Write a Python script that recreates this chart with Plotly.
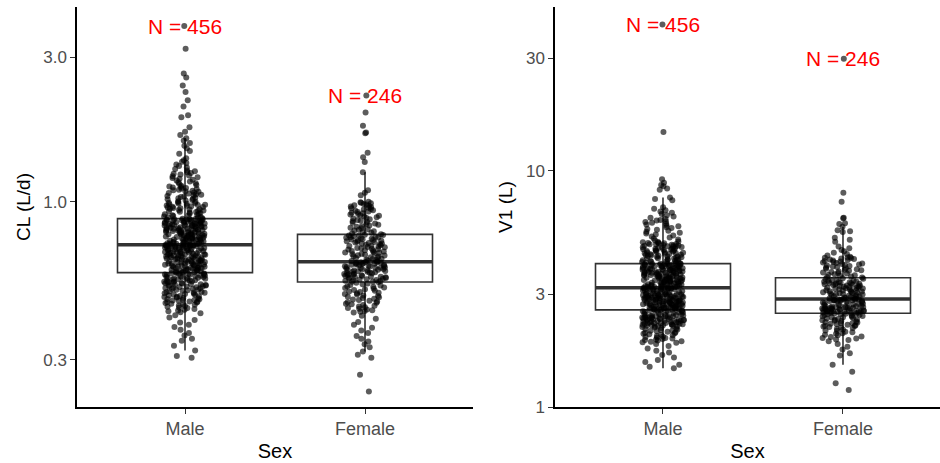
import numpy as np
import plotly.graph_objects as go

# ---------------- data ----------------
sex_categories = ["Male", "Female"]

# CL (L/d) in thousandths
cl_male_milli = [
    305, 309, 322, 334, 347, 352, 361, 368, 377, 385, 392, 399, 406, 414, 421,
    428, 431, 434, 437, 439, 442, 445, 447, 449, 452, 454, 456, 458, 460, 462, 464, 466, 467, 468, 470,
    471, 473, 474, 476, 477, 479, 480, 482, 484, 485, 487, 488, 490, 492, 493, 495, 496, 498, 500, 501,
    503, 504, 506, 508, 509, 511, 512, 514, 515, 517, 518, 519,
    521, 522, 524, 525, 526, 528, 529, 530, 532, 533, 534, 536, 537, 538, 540, 541, 542, 544, 545, 546,
    548, 549, 550, 552, 553, 554, 556, 557, 558, 560, 561, 562, 564, 565, 566, 568, 569, 570, 572, 573,
    574, 576, 577, 578, 579, 580, 581,
    583, 584, 585, 587, 588, 589, 590, 592, 593, 594, 595, 597, 598, 599, 600, 602, 603, 604, 605, 607,
    608, 609, 610, 612, 613, 614, 615, 617, 618, 619, 620, 622, 623, 624, 625, 627, 628, 629, 630, 632,
    633, 634, 635, 637, 638, 639, 640, 642, 643, 644, 645, 647, 648, 649, 650, 652, 653, 654, 655, 657,
    658, 659, 660, 662, 663, 664, 665, 667, 668, 669, 670, 672, 673, 674, 675, 677, 678, 679, 680, 682,
    683, 684, 685, 687, 688, 689, 690, 692, 693, 694, 695, 697, 698, 699, 700, 702, 703, 704, 705, 707,
    708, 709, 710, 711, 712, 713, 714, 715, 716, 717, 718, 719, 719, 720,
    721, 722, 724, 725, 727, 728, 729, 731, 732, 734, 735, 736, 738, 739, 741, 742, 743, 745, 746, 748,
    749, 750, 752, 753, 755, 756, 757, 759, 760, 762, 763, 764, 766, 767, 769, 770, 771, 773, 774, 776,
    777, 778, 780, 781, 783, 784, 785, 787, 788, 790, 791, 792, 794, 795, 797, 798, 799, 801, 802, 804,
    805, 806, 808, 809, 811, 812, 813, 815, 816, 818, 819, 820, 822, 823, 825, 826, 827, 829, 830, 832,
    833, 834, 836, 837, 839, 840, 841, 843, 844, 846, 847, 848, 850, 851, 853, 854, 855, 857, 858, 860,
    861, 862, 864, 865, 867, 868, 869, 871, 872, 874, 875, 876, 877, 878,
    881, 884, 887, 890, 893, 896, 899, 902, 905, 908, 911, 914, 917, 920, 923, 926, 929, 932, 935, 938,
    941, 944, 947, 950, 953, 956, 959, 962, 965, 968, 971, 974, 977, 980, 983, 986, 989, 992, 995, 998,
    1003, 1008, 1012, 1017, 1021, 1026, 1031, 1035, 1040, 1044, 1049, 1054, 1058, 1063, 1067, 1072,
    1077, 1081, 1086, 1090, 1095, 1100, 1104, 1109, 1113, 1118, 1122, 1127,
    1134, 1142, 1150, 1158, 1165, 1173, 1181, 1189, 1197, 1204, 1212, 1220, 1228, 1236, 1243, 1251,
    1259, 1267,
    1280, 1295, 1310, 1325, 1340, 1355, 1370, 1390, 1440, 1470, 1500, 1530, 1560, 1590, 1620, 1660,
    1700, 1760, 1900, 1930, 2060, 2160, 2300, 2420, 2570, 2650, 3200, 3800,
]

cl_female_milli = [
    236, 268, 305, 312, 320, 330, 338, 345, 352, 360, 368, 375, 383, 392, 400, 410, 420,
    430, 433, 435, 438, 440, 443, 445, 448, 450, 453, 455, 458, 460, 463, 465, 468, 470, 473, 475, 478,
    480, 483, 485, 488, 490, 493, 495, 498, 500, 503, 505, 508, 510, 513, 515, 518, 520, 523, 525, 528,
    530, 533, 536, 539, 542,
    544, 545, 547, 548, 550, 551, 553, 554, 556, 557, 559, 560, 562, 563, 565, 566, 568, 569, 571, 572,
    574, 575, 577, 578, 580, 581, 583, 584, 586, 587, 589, 590, 592, 593, 595, 596, 598, 599, 601, 602,
    604, 605, 607, 608, 610, 611, 613, 614, 616, 617, 619, 620, 622, 623, 625, 626, 628, 629, 630, 631,
    632,
    634, 636, 639, 641, 643, 646, 648, 651, 653, 655, 658, 660, 663, 665, 667, 670, 672, 675, 677, 679,
    682, 684, 687, 689, 691, 694, 696, 699, 701, 703, 706, 708, 711, 713, 715, 718, 720, 723, 725, 727,
    730, 732, 735, 737, 739, 742, 744, 747, 749, 751, 754, 756, 759, 761, 763, 766, 768, 771, 773, 775,
    777,
    780, 784, 789, 793, 798, 802, 807, 811, 816, 820, 825, 829, 834, 838, 843, 847, 852, 856, 861, 865,
    870, 874, 879, 883, 888, 892, 897, 901, 906, 910, 915, 919, 924, 928, 933, 937, 942, 946, 951, 955,
    960, 964, 969, 973, 978, 982, 987, 991, 995, 999,
    1050, 1070, 1090, 1250, 1350, 1400, 1450, 1680, 1690, 1780, 1970, 2240,
]

# V1 (L) in hundredths
v1_male_centi = [
    146, 148, 151, 155, 158, 162, 166, 170, 173, 177, 181, 185,
    187, 188, 189, 190, 191, 192, 193, 194, 195, 196, 197, 198, 199, 200, 201, 202, 203, 204, 205, 206,
    207, 208, 209, 210, 211, 212, 213, 214, 215, 216, 217, 218, 219, 219, 220,
    221, 221, 222, 222, 223, 223, 224, 224, 225, 225, 226, 226, 227, 227, 228, 228, 229, 229, 230, 230,
    231, 231, 232, 232, 233, 233, 234, 234, 235, 235, 236, 236, 237, 237, 238, 238, 239, 239, 240, 240,
    241, 241, 242, 242, 243, 243, 244, 244, 245, 245, 246, 246, 247, 248, 249, 250, 251, 252, 253, 254,
    254, 255, 255, 256, 256, 257, 257,
    258, 258, 259, 259, 260, 260, 261, 261, 262, 262, 263, 263, 264, 264, 265, 265, 266, 266, 267, 267,
    268, 268, 269, 269, 270, 270, 271, 271, 272, 272, 273, 273, 274, 274, 275, 275, 276, 276, 277, 277,
    278, 278, 279, 279, 280, 280, 281, 281, 282, 282, 283, 283, 284, 284, 285, 285, 286, 286, 287, 287,
    288, 288, 289, 289, 290, 290, 291, 291, 292, 292, 293, 293, 294, 294, 295, 295, 296, 296, 297, 297,
    298, 298, 299, 299, 300, 300, 301, 301, 302, 302, 303, 304, 305, 306, 307, 308, 309, 310, 311, 312,
    313, 313, 314, 314, 315, 315, 316, 317, 318, 318, 319, 319, 319, 319,
    320, 321, 322, 322, 323, 324, 325, 325, 326, 327, 328, 328, 329, 330, 331, 331, 332, 333, 334, 334,
    335, 336, 337, 337, 338, 339, 340, 340, 341, 342, 343, 343, 344, 345, 346, 346, 347, 348, 349, 349,
    350, 351, 352, 352, 353, 354, 355, 355, 356, 357, 358, 358, 359, 360, 361, 361, 362, 363, 364, 364,
    365, 366, 367, 367, 368, 369, 370, 370, 371, 372, 373, 373, 374, 375, 376, 376, 377, 378, 379, 379,
    380, 381, 382, 382, 383, 384, 385, 385, 386, 387, 388, 388, 389, 390, 391, 391, 392, 393, 394, 394,
    395, 396, 397, 397, 398, 399, 400, 401, 402, 403, 403, 404, 404, 404,
    405, 406, 408, 409, 411, 412, 413, 415, 416, 418, 419, 420, 422, 423, 425, 426, 427, 429, 430, 432,
    433, 434, 436, 437, 439, 440, 441, 443, 444, 446, 447, 448, 450, 451, 453, 454, 455, 457, 458, 460,
    461, 462, 464, 465, 467, 468, 469, 471, 472, 474, 475, 476, 478, 479, 481, 482, 483, 485, 486, 488,
    489, 490, 492, 493, 495, 496, 498, 499,
    502, 507, 512, 517, 522, 527, 532, 537, 542, 547, 552, 557, 562, 567, 572, 577, 582, 587, 592, 597,
    602, 607, 611, 615, 619,
    624, 632, 640, 648, 656, 664, 672, 680, 690, 700,
    750, 760, 770, 830, 840, 860, 870, 890, 920, 1460, 4160,
]

v1_female_centi = [
    118, 126, 141, 151, 165, 169, 175, 180, 185, 190, 192, 193, 195, 196, 198, 199, 201, 202, 204, 205,
    207, 208, 210, 211, 213, 214, 216, 217, 218, 219, 220, 221, 222, 223, 224, 225, 226, 227, 228, 229,
    230, 231, 232, 233, 234, 235, 236, 237, 238, 239, 240, 241, 242, 243, 244, 245, 246, 247, 247, 248,
    249, 249,
    250, 250, 251, 251, 252, 252, 253, 253, 254, 254, 255, 255, 256, 256, 257, 257, 258, 258, 259, 259,
    260, 260, 261, 261, 262, 262, 263, 263, 264, 264, 265, 265, 266, 266, 267, 267, 268, 269, 270, 271,
    272, 273, 274, 275, 276, 277, 278, 279, 280, 281, 281, 282, 282, 283, 283, 284, 284, 285, 285, 286,
    286,
    287, 288, 289, 290, 291, 292, 293, 294, 295, 296, 297, 298, 299, 300, 301, 302, 303, 304, 305, 306,
    307, 308, 309, 310, 311, 312, 313, 314, 315, 316, 317, 318, 319, 320, 321, 322, 323, 324, 325, 326,
    327, 328, 329, 330, 331, 332, 333, 334, 335, 336, 337, 338, 339, 340, 342, 343, 345, 346, 348, 349,
    351,
    353, 355, 357, 359, 361, 363, 365, 367, 369, 371, 373, 375, 377, 379, 381, 383, 385, 387, 389, 391,
    393, 395, 397, 399, 401, 403, 405, 407, 409, 411, 413, 415, 417, 419, 421, 423, 425, 427, 428, 429,
    432, 438, 444, 450, 456, 462, 470, 478,
    500, 510, 520, 550, 555, 560, 579, 595, 600, 630, 632, 739, 807, 2980,
]

cl_ticks = [0.3, 1.0, 3.0]
cl_tick_labels = ["0.3", "1.0", "3.0"]
v1_ticks = [1, 3, 10, 30]
v1_tick_labels = ["1", "3", "10", "30"]

cl_male = np.array(cl_male_milli) / 1000.0
cl_female = np.array(cl_female_milli) / 1000.0
v1_male = np.array(v1_male_centi) / 100.0
v1_female = np.array(v1_female_centi) / 100.0

panels = [
    dict(groups=[cl_male, cl_female], xa="x", ya="y", title="CL (L/d)"),
    dict(groups=[v1_male, v1_female], xa="x2", ya="y2", title="V1 (L)"),
]

# ---------------- styling ----------------
FONT = "Liberation Sans, Arial, sans-serif"
BOX_W = 0.75
BOX_LINE = "#333333"


def box_stats(vals):
    """ggplot-like box statistics on log10 scale (scale_y_log10)."""
    lv = np.log10(vals)
    q1, med, q3 = np.percentile(lv, [25, 50, 75])
    iqr = q3 - q1
    lo = lv[lv >= q1 - 1.5 * iqr].min()
    hi = lv[lv <= q3 + 1.5 * iqr].max()
    return [10 ** v for v in (lo, q1, med, q3, hi)]


fig = go.Figure()
annotations = []
for p in panels:
    for i, vals in enumerate(p["groups"]):
        lo, q1, med, q3, hi = box_stats(vals)
        # thick median (ggplot fatten)
        fig.add_trace(go.Box(
            x=[i], q1=[med], median=[med], q3=[med], lowerfence=[med], upperfence=[med],
            width=BOX_W, whiskerwidth=0, boxpoints=False, fillcolor="rgba(0,0,0,0)",
            line=dict(color=BOX_LINE, width=3.6), hoverinfo="skip", showlegend=False,
            xaxis=p["xa"], yaxis=p["ya"]))
        # box + whiskers
        fig.add_trace(go.Box(
            x=[i], q1=[q1], median=[med], q3=[q3], lowerfence=[lo], upperfence=[hi],
            width=BOX_W, whiskerwidth=0, boxpoints=False, fillcolor="rgba(0,0,0,0)",
            line=dict(color=BOX_LINE, width=1.6), hoverinfo="skip", showlegend=False,
            xaxis=p["xa"], yaxis=p["ya"]))
        # jittered points
        fig.add_trace(go.Box(
            x=[i] * len(vals), y=vals, width=BOX_W, whiskerwidth=0, boxpoints="all",
            jitter=0.31, pointpos=0,
            fillcolor="rgba(0,0,0,0)", line=dict(color="rgba(0,0,0,0)", width=0),
            marker=dict(color="rgba(0,0,0,0.64)", size=6, line=dict(width=0)),
            hoverinfo="skip", showlegend=False, xaxis=p["xa"], yaxis=p["ya"]))
        annotations.append(dict(
            x=i, y=float(np.log10(vals.max())), xref=p["xa"], yref=p["ya"],
            text=f"N = {len(vals)}", showarrow=False, xanchor="center", yanchor="middle",
            font=dict(family=FONT, size=21, color="#FF0000")))

W, H = 940, 463
ML, MR, MT, MB = 77, 0, 7, 56
PW = W - ML - MR

common_x = dict(
    tickvals=[0, 1], ticktext=sex_categories, showline=True, linecolor="#000000", linewidth=1.5,
    ticks="outside", ticklen=5, tickwidth=1.3, tickcolor="#333333", showgrid=False, zeroline=False,
    automargin=False,
    tickfont=dict(family=FONT, size=18, color="#4D4D4D"),
    title=dict(text="Sex", font=dict(family=FONT, size=20, color="#000000"), standoff=6),
)
common_y = dict(
    type="log", showline=True, linecolor="#000000", linewidth=1.5, ticks="outside", ticklen=5,
    tickwidth=1.3, tickcolor="#333333", showgrid=False, zeroline=False, automargin=False,
    tickfont=dict(family=FONT, size=17, color="#4D4D4D"),
)

fig.update_layout(
    width=W, height=H, margin=dict(l=ML, r=MR, t=MT, b=MB),
    paper_bgcolor="white", plot_bgcolor="white", showlegend=False,
    boxmode="overlay",
    xaxis=dict(domain=[0, (473 - ML) / PW], range=[-0.6, 1.6], anchor="y", **common_x),
    xaxis2=dict(domain=[(555 - ML) / PW, 1.0], range=[-0.6, 1.539], anchor="y2", **common_x),
    yaxis=dict(range=[-0.6785, 0.6427], anchor="x", tickvals=cl_ticks,
               ticktext=cl_tick_labels,
               title=dict(text=panels[0]["title"], font=dict(family=FONT, size=19, color="#000000"),
                          standoff=8),
               **common_y),
    yaxis2=dict(range=[0.0, 1.693], anchor="x2", tickvals=v1_ticks,
                ticktext=v1_tick_labels,
                title=dict(text=panels[1]["title"], font=dict(family=FONT, size=19, color="#000000"),
                           standoff=8),
                **common_y),
    annotations=annotations,
)

fig.write_html("out.html")
